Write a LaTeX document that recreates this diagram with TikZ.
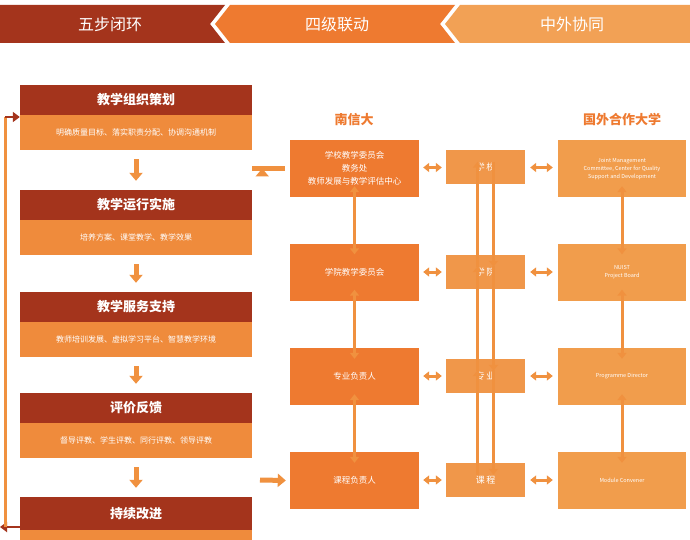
\documentclass[tikz,border=0pt]{standalone}
\usepackage{fontspec}
\setmainfont{Noto Sans CJK SC}
\usetikzlibrary{arrows.meta}
\definecolor{dred}{HTML}{A4341C}
\definecolor{org}{HTML}{EE7A30}
\definecolor{lorg}{HTML}{F2A155}
\definecolor{sub}{HTML}{EF8B3C}
\definecolor{cen}{HTML}{F0974A}
\definecolor{rgt}{HTML}{F19D4C}
\definecolor{arr}{HTML}{F0913F}
\begin{document}
\begin{tikzpicture}[x=1pt,y=-1pt,
  ttl/.style={fill=dred,text=white,font=\bfseries\fontsize{13}{15}\selectfont,minimum width=232pt,minimum height=30pt,inner sep=0pt},
  subb/.style={fill=sub,text=white,font=\fontsize{8}{10}\selectfont,minimum width=232pt,minimum height=35pt,inner sep=0pt},
  midb/.style={fill=org,text=white,font=\fontsize{8.5}{13}\selectfont,minimum width=129pt,minimum height=57pt,inner sep=0pt,align=center},
  cenb/.style={fill=cen,text=white,font=\fontsize{9}{11}\selectfont,minimum width=79pt,minimum height=34pt,inner sep=0pt},
  rgtb/.style={fill=rgt,text=white,font=\fontsize{5.5}{8}\selectfont,minimum width=128pt,minimum height=57pt,inner sep=0pt,align=center},
  fat/.style={arr,line width=5pt,-{Triangle[width=13pt,length=8pt]}},
  dbl/.style={arr,line width=3pt,{Triangle[width=9pt,length=6pt]}-{Triangle[width=9pt,length=6pt]}},
  sgl/.style={arr,line width=3pt,-{Triangle[width=9pt,length=6pt]}},
  hd/.style={text=org,font=\bfseries\fontsize{13}{15}\selectfont}]
\useasboundingbox[fill=white] (0,0) rectangle (690,540);
% header
\fill[dred] (0,5)--(225,5)--(210,24)--(225,43)--(0,43)--cycle;
\fill[org] (230,5)--(455,5)--(440,24)--(455,43)--(230,43)--(215,24)--cycle;
\fill[lorg] (460,5)--(690,5)--(690,43)--(460,43)--(445,24)--cycle;
\node[text=white,font=\fontsize{16}{18}\selectfont] (h1) at (110,24) {五步闭环};
\node[text=white,font=\fontsize{16}{18}\selectfont] (h2) at (337,24) {四级联动};
\node[text=white,font=\fontsize{16}{18}\selectfont] (h3) at (572,24) {中外协同};
% left column
\node[ttl] (t1) at (136,100) {教学组织策划};
\node[subb] (s1) at (136,132.5) {明确质量目标、落实职责分配、协调沟通机制};
\node[ttl] (t2) at (136,205) {教学运行实施};
\node[subb] (s2) at (136,237.5) {培养方案、课堂教学、教学效果};
\node[ttl] (t3) at (136,307) {教学服务支持};
\node[subb] (s3) at (136,339.5) {教师培训发展、虚拟学习平台、智慧教学环境};
\node[ttl] (t4) at (136,408) {评价反馈};
\node[subb] (s4) at (136,440.5) {督导评教、学生评教、同行评教、领导评教};
\node[ttl,minimum height=33pt] (t5) at (136,513.5) {持续改进};
\fill[sub] (20,530) rectangle (252,540);
\foreach \a/\b in {s1/t2,s2/t3,s3/t4,s4/t5}
  \draw[fat] ([yshift=-9pt]\a.south) -- ([yshift=9pt]\b.north);
% feedback loop
\coordinate (lb) at (5,527);
\coordinate (lt) at (5,117);
\draw[dred,line width=2.5pt,-{Triangle[width=10pt,length=7pt]}] (t5.west|-lb) -- (0,527);
\draw[arr,line width=3pt] (lb) -- (lt);
\draw[dred,line width=2.5pt,-{Triangle[width=10pt,length=7pt]}] (lt) -- (t1.west|-lt);
% headings
\node[hd] (n1) at (354,120) {南信大};
\node[hd] (n2) at (622,120) {国外合作大学};
% middle
\node[midb] (m1) at (354.5,168.5) {学校教学委员会\\教务处\\教师发展与教学评估中心};
\node[midb] (m2) at (354.5,272) {学院教学委员会};
\node[midb] (m3) at (354.5,376.5) {专业负责人};
\node[midb] (m4) at (354.5,480.5) {课程负责人};
\node[cenb] (c1) at (485.5,167.5) {学\,校};
\node[cenb] (c2) at (485.5,272) {学\,院};
\node[cenb] (c3) at (485.5,376) {专\,业};
\node[cenb] (c4) at (485.5,480) {课\,程};
\node[rgtb] (r1) at (622,168.5) {Joint Management\\Committee, Center for Quality\\Support and Development};
\node[rgtb] (r2) at (622,272) {NUIST\\Project Board};
\node[rgtb] (r3) at (622,376.5) {Programme Director};
\node[rgtb] (r4) at (622,480.5) {Module Convener};
\foreach \i in {1,2,3,4}{
  \draw[dbl] ([xshift=4pt]m\i.east|-c\i) -- ([xshift=-4pt]c\i.west);
  \draw[dbl] ([xshift=5pt]c\i.east) -- ([xshift=-5pt]r\i.west|-c\i);
}
\foreach \i/\j in {1/2,2/3,3/4}{
  \draw[dbl] ([yshift=11pt]m\i.south) -- ([yshift=-11pt]m\j.north);
  \draw[dbl] ([yshift=11pt]r\i.south) -- ([yshift=-11pt]r\j.north);
  \draw[sgl] ([xshift=-8pt,yshift=-12pt]c\j.north) -- ([xshift=-8pt,yshift=23pt]c\i.south);
  \draw[sgl] ([xshift=8pt,yshift=23pt]c\i.south) -- ([xshift=8pt,yshift=-12pt]c\j.north);
}
\draw[fat] ([xshift=-5pt]m1.west) -- (t1.east|-m1) ++(10pt,0);
\draw[fat] (260,480) -- ([xshift=-4pt]m4.west);
\end{tikzpicture}
\end{document}
